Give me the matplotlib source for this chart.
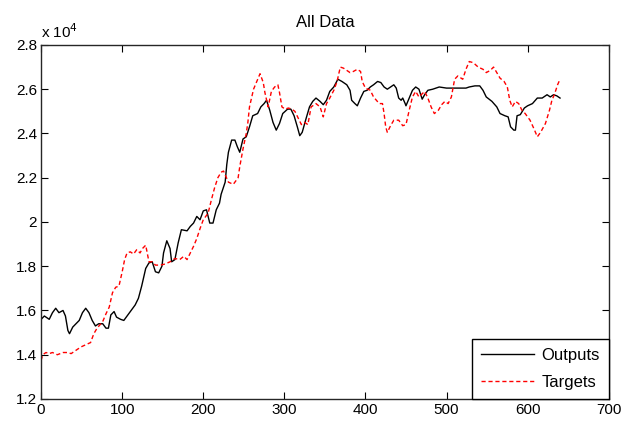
import matplotlib
matplotlib.use('Agg')
import matplotlib.pyplot as plt

# data (values in units of 1e4)
out_x = [0, 4, 10, 14, 18, 22, 27, 30, 33, 35, 39, 43, 47, 51, 55, 59, 63, 67, 71, 76,
         80, 83, 86, 90, 93, 98, 102, 108, 112, 116, 120, 124, 129, 133, 137, 141, 145, 149, 151, 155,
         159, 161, 165, 169, 173, 180, 184, 188, 192, 196, 200, 204, 208, 212, 216, 220, 222, 227, 229, 231,
         235, 239, 242, 245, 249, 253, 257, 261, 267, 271, 275, 278, 282, 286, 290, 294, 298, 304, 308, 312,
         316, 319, 322, 327, 331, 335, 339, 344, 348, 352, 356, 361, 366, 371, 377, 381, 383, 387, 390, 394,
         398, 402, 406, 410, 415, 419, 423, 427, 431, 435, 438, 441, 444, 446, 449, 450, 454, 458, 462, 466,
         470, 473, 477, 483, 491, 500, 508, 516, 524, 528, 535, 541, 545, 549, 556, 562, 566, 572, 576, 579,
         583, 585, 587, 591, 596, 600, 606, 612, 618, 624, 628, 632, 636, 640]
out_y = [1.56, 1.575, 1.56, 1.59, 1.61, 1.59, 1.60, 1.575, 1.51, 1.495, 1.525, 1.54, 1.555, 1.59, 1.61, 1.59, 1.555, 1.53, 1.54, 1.54,
         1.52, 1.52, 1.58, 1.595, 1.57, 1.56, 1.555, 1.585, 1.605, 1.625, 1.655, 1.71, 1.79, 1.815, 1.82, 1.775, 1.77, 1.80, 1.86, 1.915,
         1.88, 1.82, 1.83, 1.905, 1.965, 1.96, 1.98, 1.995, 2.025, 2.01, 2.05, 2.055, 1.995, 1.995, 2.055, 2.085, 2.125, 2.18, 2.26, 2.315,
         2.37, 2.37, 2.34, 2.315, 2.375, 2.385, 2.43, 2.48, 2.49, 2.52, 2.535, 2.55, 2.505, 2.45, 2.415, 2.445, 2.49, 2.51, 2.51, 2.48,
         2.43, 2.39, 2.405, 2.47, 2.52, 2.545, 2.56, 2.545, 2.53, 2.55, 2.59, 2.61, 2.645, 2.635, 2.62, 2.595, 2.55, 2.535, 2.525, 2.56,
         2.59, 2.595, 2.61, 2.62, 2.635, 2.63, 2.61, 2.60, 2.61, 2.62, 2.605, 2.56, 2.55, 2.56, 2.535, 2.525, 2.56, 2.595, 2.61, 2.60,
         2.555, 2.575, 2.595, 2.60, 2.61, 2.605, 2.605, 2.605, 2.605, 2.61, 2.615, 2.615, 2.595, 2.565, 2.545, 2.52, 2.49, 2.48, 2.475, 2.43,
         2.415, 2.415, 2.48, 2.485, 2.515, 2.525, 2.535, 2.56, 2.56, 2.575, 2.565, 2.575, 2.57, 2.56]

tgt_x = [0, 2, 6, 10, 14, 20, 27, 33, 37, 43, 49, 55, 61, 65, 69, 76, 80, 84, 88, 92,
         96, 100, 103, 106, 110, 114, 118, 122, 125, 129, 133, 137, 141, 147, 153, 159, 165, 171, 176, 180,
         184, 188, 192, 196, 200, 206, 210, 214, 218, 222, 225, 231, 237, 243, 245, 249, 253, 255, 257, 262,
         266, 270, 274, 276, 280, 284, 288, 292, 294, 297, 301, 305, 309, 313, 317, 321, 325, 329, 333, 339,
         344, 348, 352, 356, 361, 365, 369, 373, 377, 381, 385, 390, 394, 396, 400, 406, 410, 417, 421, 423,
         425, 427, 431, 435, 441, 446, 450, 454, 458, 462, 466, 473, 477, 481, 485, 490, 494, 498, 502, 506,
         510, 514, 520, 524, 528, 533, 539, 545, 549, 554, 558, 562, 566, 571, 575, 578, 581, 585, 589, 593,
         597, 603, 608, 612, 616, 622, 627, 630, 633, 637, 640]
tgt_y = [1.375, 1.40, 1.41, 1.405, 1.41, 1.40, 1.41, 1.41, 1.405, 1.42, 1.435, 1.445, 1.455, 1.495, 1.52, 1.55, 1.585, 1.615, 1.68, 1.705,
         1.71, 1.775, 1.83, 1.86, 1.865, 1.855, 1.875, 1.86, 1.88, 1.895, 1.82, 1.82, 1.805, 1.805, 1.81, 1.82, 1.835, 1.83, 1.845, 1.83,
         1.86, 1.89, 1.925, 1.97, 2.01, 2.04, 2.10, 2.155, 2.20, 2.225, 2.23, 2.18, 2.17, 2.20, 2.25, 2.33, 2.40, 2.45, 2.52, 2.60,
         2.635, 2.67, 2.63, 2.585, 2.52, 2.59, 2.61, 2.62, 2.585, 2.52, 2.51, 2.515, 2.51, 2.50, 2.47, 2.44, 2.45, 2.44, 2.52, 2.535,
         2.52, 2.475, 2.535, 2.56, 2.595, 2.635, 2.70, 2.695, 2.685, 2.675, 2.68, 2.69, 2.68, 2.635, 2.605, 2.595, 2.565, 2.535, 2.535, 2.49,
         2.43, 2.405, 2.435, 2.46, 2.46, 2.435, 2.44, 2.505, 2.565, 2.59, 2.565, 2.59, 2.56, 2.52, 2.49, 2.505, 2.53, 2.545, 2.535, 2.565,
         2.645, 2.66, 2.645, 2.69, 2.725, 2.72, 2.70, 2.69, 2.675, 2.685, 2.70, 2.675, 2.65, 2.635, 2.61, 2.55, 2.52, 2.545, 2.535, 2.505,
         2.49, 2.46, 2.42, 2.385, 2.405, 2.445, 2.505, 2.55, 2.575, 2.62, 2.645]

xticks = [0, 100, 200, 300, 400, 500, 600, 700]
yticks = [1.2, 1.4, 1.6, 1.8, 2.0, 2.2, 2.4, 2.6, 2.8]
ytick_labels = ['1.2', '1.4', '1.6', '1.8', '2', '2.2', '2.4', '2.6', '2.8']

plt.rcParams['font.family'] = ['Liberation Sans', 'DejaVu Sans']

fig = plt.figure(figsize=(6.23, 4.24), dpi=100)
ax = fig.add_axes([0.066, 0.059, 0.911, 0.835])

ax.plot(out_x, out_y, color='black', lw=1.0, label='Outputs')
ax.plot(tgt_x, tgt_y, color='red', lw=1.0, dashes=(3, 2), label='Targets')

ax.set_xlim(0, 700)
ax.set_ylim(1.2, 2.8)
ax.set_xticks(xticks)
ax.set_yticks(yticks)
ax.set_yticklabels(ytick_labels)
ax.tick_params(direction='in', length=5, top=True, right=True, labelsize=11, pad=3)
for s in ax.spines.values():
    s.set_color('#262626')
    s.set_linewidth(1.0)

ax.set_title('All Data', fontsize=12, pad=13)
ax.text(0.0, 1.012, r'x 10$^4$', transform=ax.transAxes, fontsize=11, va='bottom', ha='left')

leg = ax.legend(loc='lower right', borderaxespad=0, fancybox=False, handlelength=3.2,
                handletextpad=0.4, borderpad=0.55, labelspacing=0.7,
                edgecolor='black', framealpha=1, fontsize=12)
leg.get_frame().set_linewidth(1.0)

fig.savefig('out.png', dpi=100)
